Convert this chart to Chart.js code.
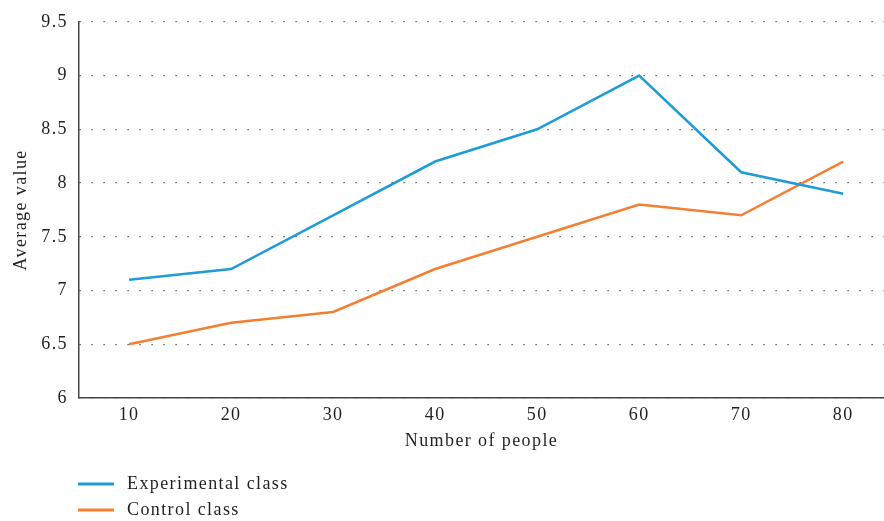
<!DOCTYPE html>
<html>
<head>
<meta charset="utf-8">
<script src="https://cdn.jsdelivr.net/npm/chart.js@4/dist/chart.umd.min.js"></script>
<style>
  html, body { margin: 0; padding: 0; background: #fff; }
  #wrap { width: 884px; height: 521px; position: relative; }
</style>
</head>
<body>
<div id="wrap"><canvas id="chart" width="884" height="521"></canvas></div>
<script>
// Number of people per group and average scores of each class
const people = [10, 20, 30, 40, 50, 60, 70, 80];
const experimentalClass = [7.1, 7.2, 7.7, 8.2, 8.5, 9.0, 8.1, 7.9];
const controlClass = [6.5, 6.7, 6.8, 7.2, 7.5, 7.8, 7.7, 8.2];
const yTicks = [6, 6.5, 7, 7.5, 8, 8.5, 9, 9.5];

const FONT = '"Liberation Serif", "Times New Roman", serif';
const TEXT = '#231f20';
const SPACING = '1.4px';

// Slightly open letter spacing for all chart text
const textSpacing = {
  id: 'textSpacing',
  beforeDraw(chart) { chart.ctx.letterSpacing = SPACING; }
};

// Legend drawn as a column under the plot, from the dataset labels and colours
const columnLegend = {
  id: 'columnLegend',
  afterDraw(chart) {
    const ctx = chart.ctx;
    ctx.save();
    ctx.letterSpacing = SPACING;
    chart.data.datasets.forEach((ds, i) => {
      const y = 484 + i * 26;
      ctx.strokeStyle = ds.borderColor;
      ctx.lineWidth = 3;
      ctx.beginPath();
      ctx.moveTo(78, y);
      ctx.lineTo(114, y);
      ctx.stroke();
      ctx.fillStyle = TEXT;
      ctx.font = '18px ' + FONT;
      ctx.textBaseline = 'middle';
      ctx.textAlign = 'left';
      ctx.fillText(ds.label, 127, y);
    });
    ctx.restore();
  }
};

new Chart(document.getElementById('chart'), {
  type: 'line',
  data: {
    datasets: [
      {
        label: 'Experimental class',
        data: people.map((p, i) => ({ x: p, y: experimentalClass[i] })),
        borderColor: '#1f9bd7',
        borderWidth: 2.5,
        pointRadius: 0,
        tension: 0,
        fill: false
      },
      {
        label: 'Control class',
        data: people.map((p, i) => ({ x: p, y: controlClass[i] })),
        borderColor: '#f37f33',
        borderWidth: 2.5,
        pointRadius: 0,
        tension: 0,
        fill: false
      }
    ]
  },
  options: {
    responsive: false,
    animation: false,
    layout: { padding: { top: 20, right: 0, bottom: 69, left: 10 } },
    plugins: {
      legend: { display: false },
      tooltip: { enabled: false }
    },
    scales: {
      x: {
        type: 'linear',
        min: 5.09,
        max: 84.0,
        afterBuildTicks(scale) {
          scale.ticks = people.map(v => ({ value: v }));
        },
        afterFit(scale) { scale.height = 54; },
        grid: { display: false, drawTicks: false },
        border: { display: true, color: '#444', width: 1.5 },
        ticks: {
          padding: 6,
          color: TEXT,
          font: { family: FONT, size: 18 },
          maxRotation: 0
        },
        title: {
          display: true,
          text: 'Number of people',
          color: TEXT,
          font: { family: FONT, size: 18 },
          padding: { top: 2, bottom: 0 }
        }
      },
      y: {
        min: 6,
        max: 9.5,
        afterBuildTicks(scale) {
          scale.ticks = yTicks.map(v => ({ value: v }));
        },
        afterFit(scale) { scale.width = 69; },
        grid: {
          drawTicks: false,
          color: '#3a3a3a',
          lineWidth: 1.2,
          tickLength: 0
        },
        border: { display: true, color: '#444', width: 1.5, dash: [1.2, 10.8] },
        ticks: {
          padding: 11,
          color: TEXT,
          font: { family: FONT, size: 18 },
          callback: v => String(v)
        },
        title: {
          display: true,
          text: 'Average value',
          color: TEXT,
          font: { family: FONT, size: 18 },
          padding: { top: 0, bottom: 4 }
        }
      }
    }
  },
  plugins: [textSpacing, columnLegend]
});
</script>
</body>
</html>
